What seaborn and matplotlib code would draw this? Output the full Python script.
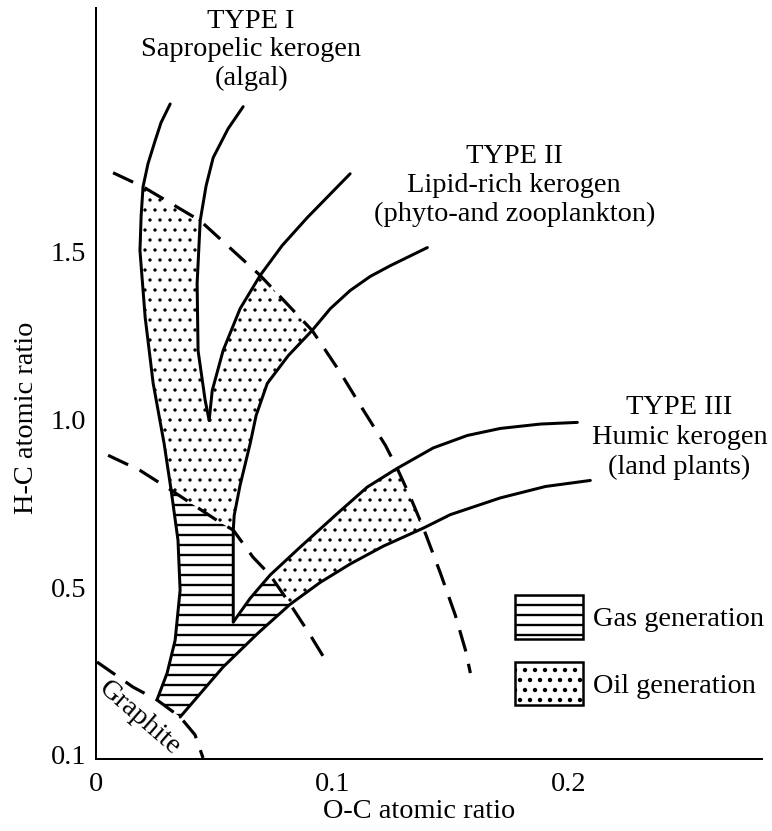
import numpy as np
import matplotlib
matplotlib.use("Agg")
import matplotlib.pyplot as plt
from matplotlib.patches import Patch
import seaborn as sns

# curves (O/C, H/C)
type1_left = [(0.0314, 1.940), (0.0275, 1.884), (0.0250, 1.830), (0.0220, 1.762),
              (0.0199, 1.693), (0.0191, 1.607), (0.0186, 1.503), (0.0208, 1.304),
              (0.0242, 1.107), (0.0288, 0.929), (0.0318, 0.789), (0.0347, 0.640),
              (0.0356, 0.491), (0.0335, 0.342), (0.0301, 0.244), (0.0258, 0.164)]
type1_right = [(0.0623, 1.932), (0.0559, 1.866), (0.0496, 1.780), (0.0466, 1.696),
               (0.0441, 1.592), (0.0428, 1.405), (0.0432, 1.205), (0.0462, 1.057),
               (0.0479, 0.997)]
type2_upper = [(0.0479, 0.997), (0.0492, 1.086), (0.0538, 1.205), (0.0610, 1.330),
               (0.0695, 1.429), (0.0788, 1.518), (0.0894, 1.601), (0.1076, 1.732)]
type2_lower = [(0.1403, 1.512), (0.1246, 1.458), (0.1161, 1.426), (0.1076, 1.384),
               (0.0992, 1.330), (0.0915, 1.265), (0.0814, 1.190), (0.0725, 1.107),
               (0.0678, 1.012), (0.0653, 0.929), (0.0610, 0.804), (0.0585, 0.714),
               (0.0581, 0.670), (0.0581, 0.396)]
type3_upper = [(0.0581, 0.396), (0.0653, 0.467), (0.0737, 0.536), (0.0864, 0.619),
               (0.1013, 0.714), (0.1148, 0.798), (0.1275, 0.854), (0.1428, 0.915),
               (0.1572, 0.952), (0.1712, 0.973), (0.1881, 0.986), (0.2038, 0.991)]
type3_lower = [(0.0356, 0.113), (0.0538, 0.262), (0.0686, 0.363), (0.0822, 0.449),
               (0.0949, 0.514), (0.1076, 0.569), (0.1216, 0.622), (0.1386, 0.676),
               (0.1500, 0.716), (0.1712, 0.766), (0.1903, 0.800), (0.2093, 0.818)]
upper_dash = [(0.0072, 1.735), (0.0199, 1.693), (0.0441, 1.592), (0.0695, 1.429),
              (0.0915, 1.265), (0.1034, 1.140), (0.1119, 1.042), (0.1225, 0.923),
              (0.1275, 0.854), (0.1331, 0.768), (0.1386, 0.676), (0.1458, 0.542),
              (0.1521, 0.417), (0.1564, 0.313), (0.1585, 0.244)]
lower_dash = [(0.0051, 0.893), (0.0186, 0.848), (0.0318, 0.789), (0.0525, 0.693),
              (0.0581, 0.670), (0.0665, 0.589), (0.0737, 0.536), (0.0822, 0.449),
              (0.0907, 0.357), (0.0979, 0.274)]
graphite = [(0.0004, 0.277), (0.0157, 0.202), (0.0258, 0.164), (0.0356, 0.113),
            (0.0419, 0.060), (0.0453, -0.009)]

x_ticks = [0, 0.1, 0.2]
x_labels = ["0", "0.1", "0.2"]
y_ticks = [0, 0.5, 1.0, 1.5]
y_labels = ["0.1", "0.5", "1.0", "1.5"]

# generation zones, built from pieces of the curves above
oil_main = (upper_dash[1:3] + type1_right[4:] + type2_upper[:5] + upper_dash[4:5]
            + type2_lower[5:13] + lower_dash[4:1:-1] + type1_left[10:3:-1])
gas_zone = (type1_left[10:] + graphite[2:4] + type3_lower[:4] + lower_dash[7:5:-1]
            + type3_upper[2::-1] + type2_lower[13:11:-1] + lower_dash[4:1:-1])
oil_type3 = type3_upper[2:7] + upper_dash[8:11] + type3_lower[7:2:-1] + lower_dash[7:5:-1]

sns.set_theme(style="white")
plt.rcParams["font.family"] = ["Liberation Serif", "DejaVu Serif"]
plt.rcParams["text.color"] = "black"
plt.rcParams["axes.labelcolor"] = "black"
plt.rcParams["xtick.color"] = "black"
plt.rcParams["ytick.color"] = "black"
plt.rcParams["hatch.linewidth"] = 1.4

fig = plt.figure(figsize=(772 / 120, 831 / 120), dpi=120)
ax = fig.add_axes([0.1244, 0.0867, 0.8627, 0.9037])

for pts in [oil_main, oil_type3]:
    a = np.array(pts)
    p = ax.fill(a[:, 0], a[:, 1], facecolor="white", edgecolor="black", hatch="..",
                linewidth=0)[0]
    if hasattr(p, "set_hatch_linewidth"):
        p.set_hatch_linewidth(0.8)
a = np.array(gas_zone)
ax.fill(a[:, 0], a[:, 1], facecolor="white", edgecolor="black", hatch="--", linewidth=0)

for pts in [type1_left, type1_right, type2_upper, type2_lower, type3_upper, type3_lower]:
    a = np.array(pts)
    sns.lineplot(x=a[:, 0], y=a[:, 1], sort=False, estimator=None, color="black",
                 linewidth=1.8, solid_joinstyle="round", ax=ax)
for pts in [upper_dash, lower_dash, graphite]:
    a = np.array(pts)
    sns.lineplot(x=a[:, 0], y=a[:, 1], sort=False, estimator=None, color="black",
                 linewidth=1.9, linestyle=(0, (7, 4)), ax=ax)

fs = 17
ax.text(0.0657, 2.101, "TYPE I\nSapropelic kerogen\n(algal)", ha="center", va="center",
        fontsize=fs, linespacing=1.2)
ax.text(0.1771, 1.697, "TYPE II\nLipid-rich kerogen\n(phyto-and zooplankton)", ha="center",
        va="center", fontsize=fs, linespacing=1.2)
ax.text(0.2470, 0.945, "TYPE III\nHumic kerogen\n(land plants)", ha="center", va="center",
        fontsize=fs, linespacing=1.25)
ax.text(0.0186, 0.110, "Graphite", ha="center", va="center", rotation=-41,
        rotation_mode="anchor", fontsize=fs)

handles = [Patch(facecolor="white", edgecolor="black", hatch="--", linewidth=1.5),
           Patch(facecolor="white", edgecolor="black", hatch="..", linewidth=1.5)]
ax.legend(handles, ["Gas generation", "Oil generation"], loc="upper left",
          bbox_to_anchor=(0.629, 0.218), frameon=False, fontsize=fs, borderpad=0,
          borderaxespad=0, handlelength=2.4, handleheight=2.0, handletextpad=0.35,
          labelspacing=0.8)

ax.set_xlim(0, 0.282)
ax.set_ylim(-0.012, 2.226)
ax.set_xticks(x_ticks, x_labels)
ax.set_yticks(y_ticks, y_labels)
ax.tick_params(direction="in", length=10.8, width=1.2, labelsize=fs, color="black")
ax.tick_params(axis="x", pad=8)
ax.tick_params(axis="y", pad=6)
ax.xaxis.get_major_ticks()[0].tick1line.set_visible(False)
ax.yaxis.get_major_ticks()[0].tick1line.set_visible(False)
for side in ["top", "right"]:
    ax.spines[side].set_visible(False)
for side in ["left", "bottom"]:
    ax.spines[side].set_color("black")
    ax.spines[side].set_linewidth(1.2)

ax.set_xlabel("O-C atomic ratio", fontsize=fs)
ax.set_ylabel("H-C atomic ratio", fontsize=fs)
ax.xaxis.set_label_coords(0.485, -0.053)
ax.yaxis.set_label_coords(-0.085, 0.454)

fig.savefig("out.png", dpi=120)
